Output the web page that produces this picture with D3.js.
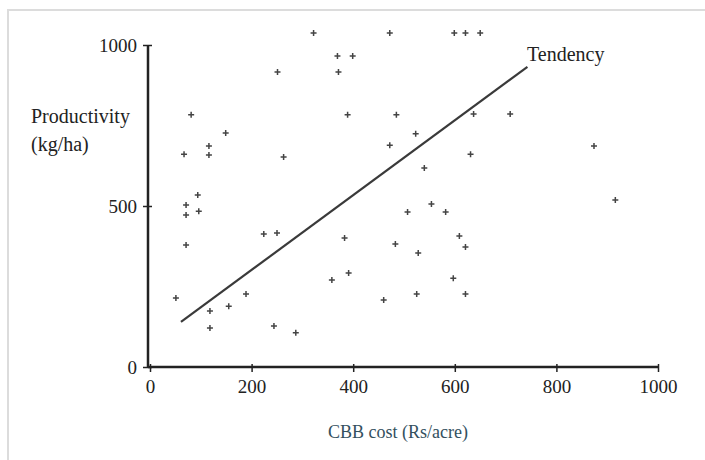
<!DOCTYPE html>
<meta charset="utf-8">
<style>

body {
  margin: 0;
  background: #fff;
}

text {
  font-family: "Liberation Serif", "Times New Roman", serif;
  fill: #222;
}

.points path {
  stroke: #444;
  stroke-width: 1.5px;
  fill: none;
}

</style>
<svg></svg>
<script src="https://d3js.org/d3.v7.min.js"></script>
<script>

// CBB cost (Rs/acre) and productivity (kg/ha) of each sampled farm
var cost = [322, 472, 599, 621, 650, 251, 369, 399, 371, 81, 389, 485, 637, 709,
            149, 116, 116, 67, 263, 472, 523, 631, 540, 874, 916, 94, 71, 71, 96,
            71, 224, 250, 51, 118, 118, 155, 189, 244, 287, 383, 483, 507, 391,
            358, 460, 554, 582, 609, 621, 528, 597, 525, 621];
var productivity = [1037, 1037, 1037, 1037, 1037, 916, 966, 966, 916, 783, 783, 783, 786, 786,
                    727, 686, 658, 661, 652, 689, 724, 661, 618, 686, 519, 534, 503, 472, 484,
                    379, 413, 416, 214, 174, 121, 189, 227, 127, 106, 401, 382, 481, 292,
                    270, 208, 506, 481, 407, 373, 354, 276, 227, 227];

// tendency line end points
var trendCost = [61, 743];
var trendProd = [140, 932];

var xTicks = [0, 200, 400, 600, 800, 1000];
var yTicks = [0, 500, 1000];

var svg = d3.select("svg")
    .attr("width", 705)
    .attr("height", 460);

// light frame of the scanned figure (only top and left show)
svg.append("rect")
    .attr("x", 8)
    .attr("y", 10)
    .attr("width", 720)
    .attr("height", 470)
    .attr("fill", "none")
    .attr("stroke", "#dcdcdc")
    .attr("stroke-width", 2);

var x = d3.scaleLinear().domain([0, 1000]).range([150, 658]);
var y = d3.scaleLinear().domain([0, 1000]).range([367, 45]);

var xAxis = svg.append("g")
    .attr("transform", "translate(0," + y(0) + ")")
    .call(d3.axisBottom(x).tickValues(xTicks).tickSize(5).tickPadding(8).tickFormat(d3.format("d")));

var yAxis = svg.append("g")
    .attr("transform", "translate(148,0)")
    .call(d3.axisLeft(y).tickValues(yTicks).tickSize(5).tickPadding(6).tickFormat(d3.format("d")));

[xAxis, yAxis].forEach(function(g) {
  g.select(".domain").attr("stroke", "#222").attr("stroke-width", 2.5);
  g.selectAll(".tick line").attr("stroke", "#222").attr("stroke-width", 1.5);
  g.selectAll(".tick text")
    .attr("fill", "#222")
    .style("font-family", "'Liberation Serif', serif")
    .style("font-size", "19px");
});
xAxis.select(".domain").attr("d", "M148,0H" + x(1000));
yAxis.select(".domain").attr("d", "M0," + y(0) + "V" + y(1000));
xAxis.selectAll(".tick line").attr("y1", -3);
yAxis.selectAll(".tick line").attr("x1", 4);

var points = cost.map(function(c, i) { return {c: c, p: productivity[i]}; });

svg.append("g")
    .attr("class", "points")
    .selectAll("path")
    .data(points)
    .enter().append("path")
    .attr("transform", function(d) { return "translate(" + x(d.c) + "," + y(d.p) + ")"; })
    .attr("d", "M-3,0H3M0,-3V3");

svg.append("line")
    .attr("x1", x(trendCost[0]))
    .attr("y1", y(trendProd[0]))
    .attr("x2", x(trendCost[1]))
    .attr("y2", y(trendProd[1]))
    .attr("stroke", "#3a3a3a")
    .attr("stroke-width", 2.2);

svg.append("text")
    .attr("x", 527)
    .attr("y", 61)
    .style("font-size", "20px")
    .text("Tendency");

svg.append("text")
    .attr("x", 31)
    .attr("y", 123)
    .attr("fill", "#2e3c44")
    .style("font-size", "20px")
    .text("Productivity");

svg.append("text")
    .attr("x", 31)
    .attr("y", 151)
    .attr("fill", "#2e3c44")
    .style("font-size", "20px")
    .text("(kg/ha)");

svg.append("text")
    .attr("x", 398)
    .attr("y", 438)
    .attr("text-anchor", "middle")
    .style("fill", "#33505e")
    .style("font-size", "18px")
    .text("CBB cost (Rs/acre)");

</script>
